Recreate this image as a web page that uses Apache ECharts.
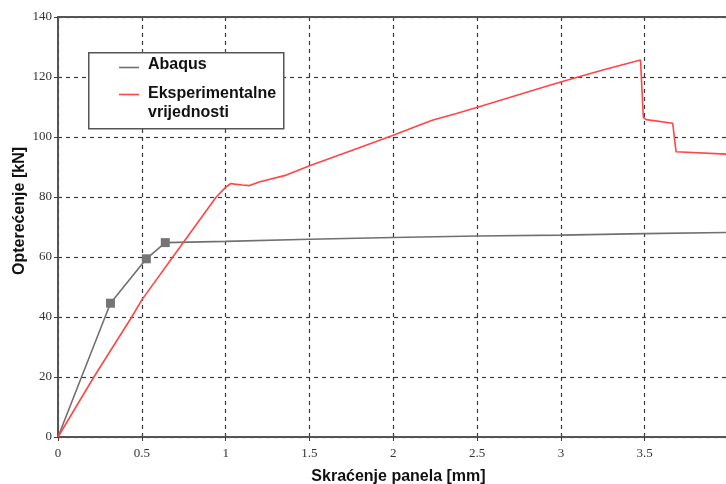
<!DOCTYPE html>
<html>
<head>
<meta charset="utf-8">
<script src="https://cdn.jsdelivr.net/npm/echarts@6/dist/echarts.min.js"></script>
<style>html,body{margin:0;padding:0;background:#fff;}#c{width:726px;height:484px;}</style>
</head>
<body>
<div id="c"></div>
<script>
// Abaqus (numerical) curve
const abaqusX = [0, 0.313, 0.527, 0.64, 1.0, 1.5, 2.0, 2.5, 3.0, 3.5, 4.0];
const abaqusY = [0, 44.6, 59.4, 64.8, 65.2, 65.9, 66.5, 67.0, 67.3, 67.8, 68.2];
const abaqusMarked = [1, 2, 3];
// Experimental curve
const expX = [0, 0.214, 0.44, 0.5, 0.685, 0.944, 1.0, 1.03, 1.054, 1.1, 1.143, 1.2, 1.362, 1.501, 1.76, 2.0, 2.158, 2.237, 2.367, 2.503, 2.855, 3.004, 3.25, 3.475, 3.492, 3.51, 3.667, 3.687, 3.985, 4.0];
const expY = [0, 20, 40, 45.7, 60, 80, 83.2, 84.5, 84.3, 84.0, 83.8, 85.0, 87.3, 90.4, 95.7, 100.6, 104.0, 105.7, 107.7, 109.9, 115.9, 118.4, 122.3, 125.7, 106.5, 105.8, 104.6, 95.1, 94.3, 94.3];
const xTicks = [0, 0.5, 1, 1.5, 2, 2.5, 3, 3.5];
const yTicks = [0, 20, 40, 60, 80, 100, 120, 140];
const xVisibleMax = 3.985; // the reference picture is cropped just before x = 4
const seriesNames = ['Abaqus', 'Eksperimentalne vrijednosti'];
const xTitle = 'Skraćenje panela [mm]';
const yTitle = 'Opterećenje [kN]';

const chart = echarts.init(document.getElementById('c'), null, {renderer: 'canvas'});
const gridCol = '#3a3a3a';
const axisCol = '#555';
const tickFont = {fontFamily: 'Liberation Serif', fontSize: 13, color: '#333'};
const titleFont = {fontFamily: 'Liberation Sans', fontSize: 16, fontWeight: 'bold', color: '#111'};

const abaqusData = abaqusX.map((x, i) => {
  const d = {value: [x, abaqusY[i]]};
  if (abaqusMarked.includes(i)) { d.symbol = 'rect'; d.symbolSize = 9; }
  return d;
});
const expData = expX.map((x, i) => [x, expY[i]]);

chart.setOption({
  animation: false,
  backgroundColor: '#fff',
  grid: {left: 58, right: 0, top: 17, bottom: 47, containLabel: false, outerBoundsMode: 'none'},
  xAxis: [{
    type: 'value', min: 0, max: xVisibleMax, interval: 0.5,
    name: xTitle, nameLocation: 'middle', nameGap: 32, nameMoveOverlap: false,
    nameTextStyle: Object.assign({padding: [0, 0, 0, 13]}, titleFont),
    axisLine: {show: true, onZero: false, lineStyle: {color: axisCol, width: 2}},
    axisTick: {show: true, length: 4, lineStyle: {color: gridCol}},
    axisLabel: Object.assign({margin: 10, showMaxLabel: false, formatter: v => xTicks.includes(v) ? String(v) : ''}, tickFont),
    splitLine: {show: true, showMaxLine: false, lineStyle: {color: gridCol, type: [4, 4], width: 1.2}}
  }, {
    type: 'value', position: 'top', min: 0, max: xVisibleMax,
    axisLine: {show: true, onZero: false, lineStyle: {color: axisCol, width: 2}},
    axisTick: {show: false}, axisLabel: {show: false}, splitLine: {show: false}
  }],
  yAxis: {
    type: 'value', min: 0, max: 140, interval: 20,
    name: yTitle, nameLocation: 'middle', nameGap: 30, nameRotate: 90, nameMoveOverlap: false,
    nameTextStyle: Object.assign({padding: [0, 0, 0, 32]}, titleFont),
    axisLine: {show: true, onZero: false, lineStyle: {color: axisCol, width: 2}},
    axisTick: {show: true, length: 4, lineStyle: {color: gridCol}},
    axisLabel: Object.assign({margin: 6, formatter: v => yTicks.includes(v) ? String(v) : ''}, tickFont),
    splitLine: {show: true, lineStyle: {color: gridCol, type: [4, 4], width: 1.2}}
  },
  series: [
    {
      name: seriesNames[0], type: 'line', data: abaqusData, xAxisIndex: 0,
      symbol: 'none', showSymbol: true,
      lineStyle: {color: '#707070', width: 1.6},
      itemStyle: {color: '#757575'},
      z: 3
    },
    {
      name: seriesNames[1], type: 'line', data: expData, xAxisIndex: 0,
      symbol: 'none',
      lineStyle: {color: '#ff4545', width: 1.6},
      itemStyle: {color: '#ff4545'},
      z: 4
    }
  ],
  graphic: [
    {type: 'rect', left: 88, top: 52, shape: {width: 195, height: 76}, style: {fill: '#fff', stroke: '#555', lineWidth: 1.5}, z: 10},
    {type: 'line', shape: {x1: 119, y1: 67.5, x2: 139, y2: 67.5}, style: {stroke: '#707070', lineWidth: 1.6}, z: 11},
    {type: 'text', left: 148, top: 57, style: {text: seriesNames[0], font: 'bold 16px "Liberation Sans"', fill: '#111'}, z: 11},
    {type: 'line', shape: {x1: 119, y1: 94.5, x2: 139, y2: 94.5}, style: {stroke: '#ff4545', lineWidth: 1.6}, z: 11},
    {type: 'text', left: 148, top: 84, style: {text: 'Eksperimentalne\nvrijednosti', font: 'bold 16px "Liberation Sans"', lineHeight: 19, fill: '#111'}, z: 11}
  ]
});
</script>
</body>
</html>
